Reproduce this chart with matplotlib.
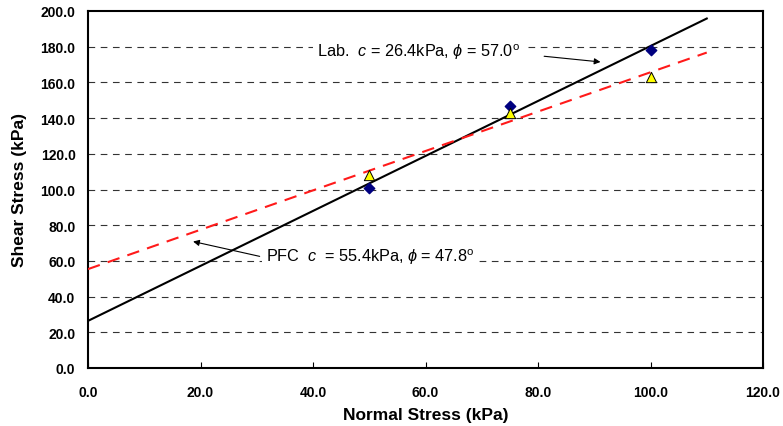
import matplotlib
matplotlib.use('Agg')
import matplotlib.pyplot as plt
import numpy as np

plt.rcParams['font.family'] = ['Liberation Sans', 'DejaVu Sans']
plt.rcParams['mathtext.fontset'] = 'custom'
plt.rcParams['mathtext.it'] = 'Liberation Sans:italic'
plt.rcParams['mathtext.rm'] = 'Liberation Sans'

# データ
normal_stress = [50, 75, 100]
lab_shear = [101, 147, 178]
pfc_shear = [108, 143, 163]

lab_c, lab_phi = 26.4, 57.0
pfc_c, pfc_phi = 55.4, 47.8
fit_x = [0, 110]

x_ticks = [0, 20, 40, 60, 80, 100, 120]
y_ticks = [0, 20, 40, 60, 80, 100, 120, 140, 160, 180, 200]

fig = plt.figure(figsize=(7.83, 4.27), dpi=100)
ax = fig.add_axes([88 / 783, 1 - 369 / 427, 675 / 783, 357 / 427])

# グリッド（横方向の破線）
for yv in y_ticks[1:-1]:
    ax.axhline(yv, color='#333333', lw=0.8, ls=(0, (6, 5)), zorder=1)

fx = np.array(fit_x, dtype=float)
ax.plot(fx, lab_c + np.tan(np.radians(lab_phi)) * fx, color='black', lw=1.5, zorder=3)
ax.plot(fx, pfc_c + np.tan(np.radians(pfc_phi)) * fx, color='#ff1a1a', lw=1.5,
        ls=(0, (6, 4)), zorder=3)

ax.scatter(normal_stress, lab_shear, marker='D', s=28, color='#000080', zorder=4)
ax.scatter(normal_stress, pfc_shear, marker='^', s=55, facecolor='#ffff00',
           edgecolor='black', linewidth=0.7, zorder=5)

# 注釈
ax.text(40.7, 177.5, r'Lab.  $c$ = 26.4kPa, $\phi$ = 57.0$^{\rm o}$', fontsize=11.7,
        va='center', ha='left', zorder=2,
        bbox=dict(facecolor='white', edgecolor='none', pad=3))
ax.annotate('', xy=(91.6, 171.3), xytext=(80.6, 174.8),
            arrowprops=dict(arrowstyle='-|>', color='black', lw=0.8,
                            mutation_scale=9), zorder=6)
ax.text(31.6, 62.5, r'PFC  $c$  = 55.4kPa, $\phi$ = 47.8$^{\rm o}$', fontsize=11.7,
        va='center', ha='left', zorder=2,
        bbox=dict(facecolor='white', edgecolor='none', pad=3))
ax.annotate('', xy=(18.2, 71.2), xytext=(31.0, 62.2),
            arrowprops=dict(arrowstyle='-|>', color='black', lw=0.8,
                            mutation_scale=9), zorder=6)

ax.set_xlim(0, 120)
ax.set_ylim(0, 200)
ax.set_xticks(x_ticks)
ax.set_yticks(y_ticks)
ax.set_xticklabels([f'{v:.1f}' for v in x_ticks], fontweight='bold', fontsize=10)
ax.set_yticklabels([f'{v:.1f}' for v in y_ticks], fontweight='bold', fontsize=10)
ax.tick_params(axis='x', direction='in', length=4, pad=12)
ax.tick_params(axis='y', direction='in', length=0, pad=9)
for sp in ax.spines.values():
    sp.set_linewidth(1.5)

ax.set_xlabel('Normal Stress (kPa)', fontsize=12.5, fontweight='bold', labelpad=6)
ax.set_ylabel('Shear Stress (kPa)', fontsize=12.5, fontweight='bold', labelpad=10)

plt.savefig('out.png', dpi=100)
